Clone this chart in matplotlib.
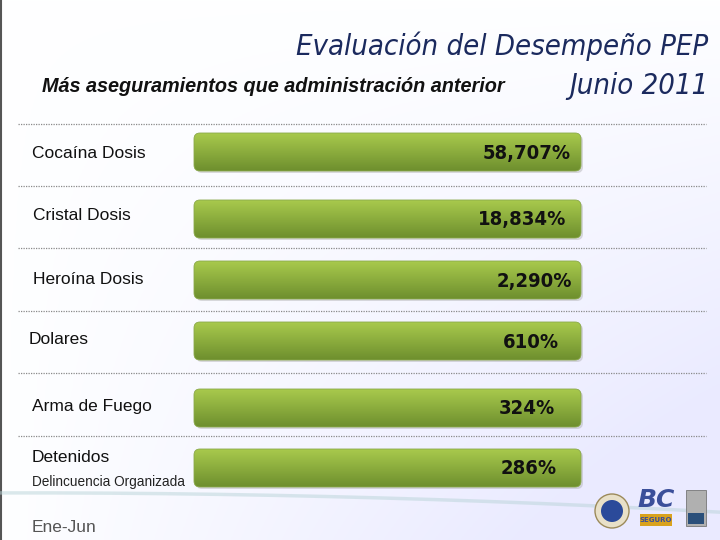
import matplotlib.pyplot as plt
import numpy as np
from matplotlib.patches import FancyBboxPatch, Circle, Rectangle
from matplotlib import font_manager

# Daten der Folie
categorias = ['Cocaína Dosis', 'Cristal Dosis', 'Heroína Dosis', 'Dolares',
              'Arma de Fuego', 'Detenidos']
valores = ['58,707%', '18,834%', '2,290%', '610%', '324%', '286%']
largo_barra = [1, 1, 1, 1, 1, 1]   # alle Balken gleich lang (nicht proportional)

titulo = 'Evaluación del Desempeño PEP'
fecha = 'Junio 2011'
subtitulo = 'Más aseguramientos que administración anterior'

# schmale Schrift suchen, sonst DejaVu Sans (condensed)
names = {f.name for f in font_manager.fontManager.ttflist}
narrow = 'Liberation Sans Narrow' if 'Liberation Sans Narrow' in names else 'DejaVu Sans'

fig = plt.figure(figsize=(7.2, 5.4), dpi=100)
ax = fig.add_axes([0, 0, 1, 1])
ax.set_xlim(0, 720)
ax.set_ylim(540, 0)
ax.axis('off')

# Hintergrund: leichter Blau-Verlauf
bg = np.outer(np.ones(256), np.linspace(0, 1, 256))
yy = np.linspace(0, 1, 256)[:, None]
val = 1 - 0.08 * np.clip(bg * yy * 1.4, 0, 1)
rgb = np.dstack([val * 0.97 + 0.027, val * 0.985 + 0.015, np.ones_like(val)])
ax.imshow(rgb, extent=[0, 720, 540, 0], aspect='auto', zorder=0)
ax.plot([1, 1], [0, 540], color='#555555', lw=1.5, zorder=1)

# Swoosh unten
xs = np.linspace(0, 720, 200)
ax.plot(xs, 492 + 0.00004 * (xs - 150) ** 2 + 0.01 * xs, color='#b9d4d8', lw=2.5,
        alpha=0.5, zorder=1)

# Trennlinien
sep_y = [124, 186, 248, 311, 373, 436]
for y in sep_y:
    ax.plot([18, 706], [y, y], color='#8a8a8a', lw=0.9, ls=(0, (1, 1)), zorder=2)

# Balken
centros = [152, 219, 280, 341, 408, 468]
x0, ancho_px, alto = 194, 387, 38
escala = ancho_px / max(largo_barra)
bars = ax.barh(centros, [l * escala for l in largo_barra], left=x0, height=alto,
               color='none', zorder=3)
grad = np.linspace(0, 1, 64)[:, None]
top = np.array([0.66, 0.79, 0.30])
bot = np.array([0.43, 0.56, 0.18])
for b in bars:
    x, y, w, h = b.get_x(), b.get_y(), b.get_width(), b.get_height()
    shadow = FancyBboxPatch((x + 2, y + 2), w, h, boxstyle='round,pad=0,rounding_size=6',
                            fc='#9a9a9a', ec='none', alpha=0.35, zorder=3)
    ax.add_patch(shadow)
    patch = FancyBboxPatch((x, y), w, h, boxstyle='round,pad=0,rounding_size=6',
                           fc='none', ec='#8aa84a', lw=0.6, zorder=5)
    ax.add_patch(patch)
    img = np.dstack([top[i] + (bot[i] - top[i]) * grad * np.ones((64, 8)) for i in range(3)])
    im = ax.imshow(img, extent=[x, x + w, y + h, y], aspect='auto', zorder=4)
    im.set_clip_path(patch)

# Werte in den Balken (rechter Rand wie in der Vorlage leicht versetzt)
val_right = [571, 566, 572, 559, 555, 557]
for b, v, xr in zip(bars, valores, val_right):
    ax.text(xr, b.get_y() + b.get_height() / 2 + 1, v,
            ha='right', va='center', fontsize=14.5, fontweight='bold', fontstretch='condensed',
            family=narrow, color='#111111', zorder=6)

# Kategorien links
lab_y = [153, 216, 280, 340, 406, 458]
lab_x = [32, 33, 33, 29, 32, 32]
for t, x, y in zip(categorias, lab_x, lab_y):
    ax.text(x, y, t, ha='left', va='center', fontsize=12.5, family='Liberation Sans',
            color='#111111', zorder=6)
ax.text(32, 482, 'Delincuencia Organizada', ha='left', va='center', fontsize=9.8,
        family='Liberation Sans', color='#222222', zorder=6)
ax.text(32, 527, 'Ene-Jun', ha='left', va='center', fontsize=12.5,
        family='Liberation Sans', color='#555555', zorder=6)

# Titel
ax.text(708, 46, titulo, ha='right', va='center', fontsize=21, style='italic',
        fontstretch='condensed', family=narrow, color='#1b2a5e', zorder=6)
ax.text(708, 86, fecha, ha='right', va='center', fontsize=21, style='italic',
        fontstretch='condensed', family=narrow, color='#1b2a5e', zorder=6)
ax.text(42, 86, subtitulo, ha='left', va='center', fontsize=14.3, style='italic',
        fontweight='bold', family='Liberation Sans', color='#111111', zorder=6)

# Logos (vereinfacht)
ax.add_patch(Circle((612, 511), 17, fc='#e8e0c8', ec='#9c8a5a', lw=1, zorder=6))
ax.add_patch(Circle((612, 511), 11, fc='#2b4a9a', ec='none', zorder=7))
ax.text(656, 500, 'BC', ha='center', va='center', fontsize=18, style='italic',
        fontweight='bold', color='#3b4f9a', family=narrow, zorder=6)
ax.add_patch(Rectangle((640, 514), 32, 12, fc='#d9a21e', ec='none', zorder=6))
ax.text(656, 520.5, 'SEGURO', ha='center', va='center', fontsize=5, fontweight='bold',
        color='#3b4f9a', zorder=7)
ax.add_patch(Rectangle((686, 490), 20, 36, fc='#b0b0b0', ec='#777777', lw=0.6, zorder=6))
ax.add_patch(Rectangle((688, 513), 16, 11, fc='#2a4f7a', ec='none', zorder=7))

fig.savefig('out.png', dpi=100)
plt.close(fig)
